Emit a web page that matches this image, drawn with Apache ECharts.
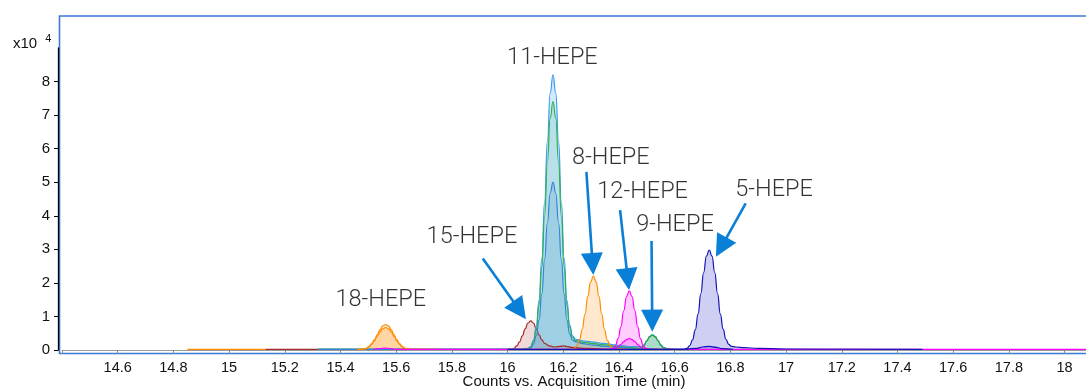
<!DOCTYPE html>
<html>
<head>
<meta charset="utf-8">
<script src="https://cdn.jsdelivr.net/npm/echarts@6/dist/echarts.min.js"></script>
<style>
html,body{margin:0;padding:0;background:#fff;}
#chart{width:1086px;height:390px;}
</style>
</head>
<body>
<div id="chart"></div>
<script>
// ---- axis ticks ----
const xTickValues = [14.4,14.6,14.8,15,15.2,15.4,15.6,15.8,16,16.2,16.4,16.6,16.8,17,17.2,17.4,17.6,17.8,18];
const xLabelValues = [14.6,14.8,15,15.2,15.4,15.6,15.8,16,16.2,16.4,16.6,16.8,17,17.2,17.4,17.6,17.8,18];
const yTickValues = [0,1,2,3,4,5,6,7,8];

// ---- traces (time in min, counts x10^4) ----
// 15-HEPE (brown-red)
const x15 = [15.13,15.6,15.95,16.003,16.013,16.023,16.033,16.043,16.053,16.063,16.073,16.083,16.093,16.103,16.113,16.123,16.133,16.15,16.17,16.19,16.2,16.21,16.23,16.27,16.35,16.45];
const y15 = [0.02,0.02,0.02,0.02,0.02,0.05,0.12,0.24,0.42,0.63,0.80,0.87,0.80,0.63,0.45,0.30,0.20,0.12,0.09,0.11,0.12,0.11,0.08,0.05,0.03,0.02];
// 11-HEPE (three overlaid traces)
const x11 = [15.32,15.9,16.05,16.073,16.083,16.093,16.103,16.113,16.123,16.133,16.143,16.153,16.163,16.173,16.183,16.193,16.203,16.213,16.223,16.233,16.245,16.27,16.3,16.35,16.4,16.45,16.48,16.49,16.5,16.51,16.52,16.53,16.54,16.55,16.56,16.58,16.65];
const y11Outer = [0.02,0.02,0.03,0.05,0.10,0.29,0.70,1.48,2.74,4.42,6.23,7.66,8.20,7.66,6.23,4.42,2.74,1.48,0.75,0.42,0.32,0.27,0.24,0.19,0.14,0.10,0.10,0.15,0.28,0.41,0.46,0.41,0.29,0.16,0.08,0.03,0.02];
const y11Green = [0.02,0.02,0.02,0.04,0.09,0.26,0.63,1.33,2.47,3.99,5.62,6.91,7.40,6.91,5.62,3.99,2.47,1.33,0.68,0.38,0.28,0.23,0.20,0.15,0.10,0.07,0.05,0.05,0.05,0.04,0.04,0.03,0.03,0.02,0.02,0.02,0.02];
const y11Inner = [0.02,0.02,0.02,0.03,0.06,0.18,0.43,0.90,1.67,2.70,3.80,4.67,5.00,4.67,3.80,2.70,1.67,0.90,0.48,0.30,0.24,0.19,0.15,0.11,0.08,0.05,0.04,0.04,0.04,0.03,0.03,0.03,0.02,0.02,0.02,0.02,0.02];
// 18-HEPE (orange, two traces; first has an early baseline window)
const x18a = [14.85,15.13,15.2,15.46,15.472,15.482,15.492,15.502,15.512,15.522,15.532,15.542,15.552,15.562,15.572,15.582,15.592,15.602,15.612,15.622,15.632,15.642,15.652,15.7,15.75];
const y18a = [0.02,0.02,null,0.02,0.02,0.03,0.05,0.10,0.19,0.31,0.46,0.61,0.72,0.76,0.72,0.61,0.46,0.31,0.19,0.10,0.05,0.03,0.02,0.02,0.02];
const x18b = [15.46,15.472,15.482,15.492,15.502,15.512,15.522,15.532,15.542,15.552,15.562,15.572,15.582,15.592,15.602,15.612,15.622,15.632,15.642,15.652,15.7];
const y18b = [0.02,0.02,0.03,0.04,0.09,0.17,0.27,0.41,0.54,0.63,0.67,0.63,0.54,0.41,0.27,0.17,0.09,0.04,0.03,0.02,0.02];
// 8-HEPE (orange)
const x8 = [16.0,16.2,16.228,16.238,16.248,16.258,16.268,16.278,16.288,16.298,16.308,16.318,16.328,16.338,16.348,16.358,16.368,16.378,16.388,16.45,16.6];
const y8 = [0.02,0.02,0.02,0.04,0.12,0.30,0.61,1.07,1.60,2.03,2.20,2.03,1.60,1.07,0.61,0.30,0.12,0.05,0.03,0.02,0.02];
// 9-HEPE (green)
const x9 = [16.44,16.46,16.47,16.48,16.49,16.5,16.51,16.52,16.53,16.54,16.55,16.56,16.57,16.58,16.6];
const y9 = [0.02,0.02,0.03,0.06,0.14,0.27,0.39,0.44,0.39,0.27,0.14,0.06,0.03,0.02,0.02];
// 12-HEPE (magenta, two traces)
const x12 = [15.52,15.54,15.56,15.58,15.6,16.0,16.3,16.367,16.377,16.387,16.397,16.407,16.417,16.427,16.437,16.447,16.457,16.467,16.477,16.487,16.497,16.507,16.6,17.5,18.08];
const y12 = [0.02,0.04,0.06,0.04,0.02,0.02,0.02,0.02,0.04,0.13,0.34,0.70,1.17,1.59,1.76,1.59,1.17,0.70,0.34,0.13,0.04,0.02,0.02,0.02,0.02];
const x12b = [16.357,16.377,16.387,16.397,16.407,16.417,16.427,16.437,16.447,16.457,16.467,16.477,16.487,16.497,16.517];
const y12b = [0.02,0.03,0.05,0.09,0.17,0.25,0.31,0.34,0.31,0.25,0.17,0.09,0.05,0.03,0.02];
// 5-HEPE (navy, two traces)
const x5 = [16.0,16.6,16.634,16.644,16.654,16.664,16.674,16.684,16.694,16.704,16.714,16.724,16.734,16.744,16.754,16.764,16.774,16.784,16.794,16.804,16.82,16.85,16.9,17.0,17.49];
const y5 = [0.02,0.02,0.02,0.05,0.13,0.30,0.60,1.07,1.68,2.31,2.80,2.98,2.80,2.31,1.68,1.07,0.62,0.32,0.17,0.11,0.09,0.07,0.05,0.03,0.02];
const x5b = [16.64,16.68,16.70,16.724,16.75,16.77,16.81];
const y5b = [0.02,0.05,0.09,0.11,0.08,0.04,0.02];

// ---- annotations ----
const labelNames = ['18-HEPE','15-HEPE','11-HEPE','8-HEPE','12-HEPE','9-HEPE','5-HEPE'];
const labelX = [15.545,15.872,16.161,16.371,16.485,16.601,16.957];
const labelY = [1.49,3.37,8.71,5.71,4.69,3.716,4.77];
const arrowFrom = [[15.911,2.73],[16.283,5.31],[16.404,4.17],[16.517,3.25],[16.855,4.37]];
const arrowTo = [[16.0431,1.183],[16.3052,2.563],[16.4316,2.113],[16.5193,0.873],[16.7673,3.066]];

function pairs(xs, ys){ return xs.map((x,i)=>[x, ys[i]]); }
function trace(name, xs, ys, line, fill){
  return {
    name, type:'line', data: pairs(xs, ys),
    symbol:'none', showSymbol:false, smooth:0.5, smoothMonotone:'x',
    lineStyle:{color:line, width:1.2},
    areaStyle:{color:fill, origin:'start'},
    silent:true, animation:false
  };
}

const series = [
  trace('15-HEPE', x15, y15, '#a52a2a', 'rgba(165,42,42,0.25)'),
  trace('11-HEPE a', x11, y11Outer, '#3a9cf0', 'rgba(58,156,240,0.32)'),
  trace('11-HEPE b', x11, y11Green, '#2db34a', 'rgba(45,179,140,0.22)'),
  trace('11-HEPE c', x11, y11Inner, '#2f86d6', 'rgba(40,130,200,0.25)'),
  trace('18-HEPE a', x18a, y18a, '#ff8c00', 'rgba(255,140,0,0.28)'),
  trace('18-HEPE b', x18b, y18b, '#ff8c00', 'rgba(255,140,0,0.28)'),
  trace('8-HEPE', x8, y8, '#ff8c00', 'rgba(255,140,0,0.28)'),
  trace('9-HEPE', x9, y9, '#2ca02c', 'rgba(50,190,50,0.35)'),
  trace('12-HEPE a', x12, y12, '#ff00ff', 'rgba(255,0,255,0.28)'),
  trace('12-HEPE b', x12b, y12b, '#ff00ff', 'rgba(255,0,255,0.28)'),
  trace('5-HEPE a', x5, y5, '#1414b4', 'rgba(40,40,200,0.32)'),
  trace('5-HEPE b', x5b, y5b, '#1414b4', 'rgba(40,40,200,0.32)'),
  {
    name:'labels', type:'scatter', symbolSize:0, silent:true, animation:false, z:10,
    data: labelNames.map((n,i)=>({name:n, value:[labelX[i], labelY[i]]})),
    label:{show:true, position:'inside', formatter:p=>p.name,
      fontFamily:'Roboto', fontWeight:300, fontSize:23.5, color:'#000'},
    markLine:{
      silent:true, animation:false,
      symbol:['none','triangle'], symbolSize:[22,22],
      lineStyle:{color:'#0a7fd8', width:2.6, type:'solid'},
      itemStyle:{color:'#0a7fd8'},
      label:{show:false},
      data: arrowFrom.map((f,i)=>[{coord:f},{coord:arrowTo[i]}])
    }
  }
];

const chart = echarts.init(document.getElementById('chart'), null, {renderer:'canvas'});
chart.setOption({
  backgroundColor:'#fff',
  animation:false,
  grid:{left:62, right:0, top:48, bottom:40, containLabel:false, outerBoundsMode:'none'},
  xAxis:{
    type:'value', min:14.4, max:18.077, interval:0.2, offset:7,
    axisLine:{show:true, lineStyle:{color:'#9a9a9a', width:1}},
    axisTick:{show:true, length:4, lineStyle:{color:'#8a8a8a'}, customValues:xTickValues},
    axisLabel:{color:'#111', fontSize:14.5, fontFamily:'Liberation Sans', margin:3, customValues:xLabelValues},
    splitLine:{show:false},
    name:'Counts vs. Acquisition Time (min)', nameLocation:'middle', nameGap:17, nameMoveOverlap:false,
    nameTextStyle:{color:'#111', fontSize:15, fontFamily:'Liberation Sans'}
  },
  yAxis:{
    type:'value', min:0, max:9, interval:1, offset:4,
    axisLine:{show:true, lineStyle:{color:'#000', width:1.3}},
    axisTick:{show:true, length:4, lineStyle:{color:'#000'}, customValues:yTickValues},
    axisLabel:{color:'#111', fontSize:15, fontFamily:'Liberation Sans', margin:8, customValues:yTickValues},
    splitLine:{show:false}
  },
  graphic:[
    {type:'rect', z:-1, silent:true,
     shape:{x:59.5, y:16, width:1100, height:337.5},
     style:{fill:'none', stroke:'#3b7bd4', lineWidth:1.6}},
    {type:'text', left:13, top:33, silent:true,
     style:{text:'x10{s|4}', fontSize:15, fontFamily:'Liberation Sans', fill:'#111',
       rich:{s:{fontSize:11, fontFamily:'Liberation Sans', fill:'#111', verticalAlign:'top', padding:[0,0,10,8]}}}}
  ],
  series
});
</script>
</body>
</html>
